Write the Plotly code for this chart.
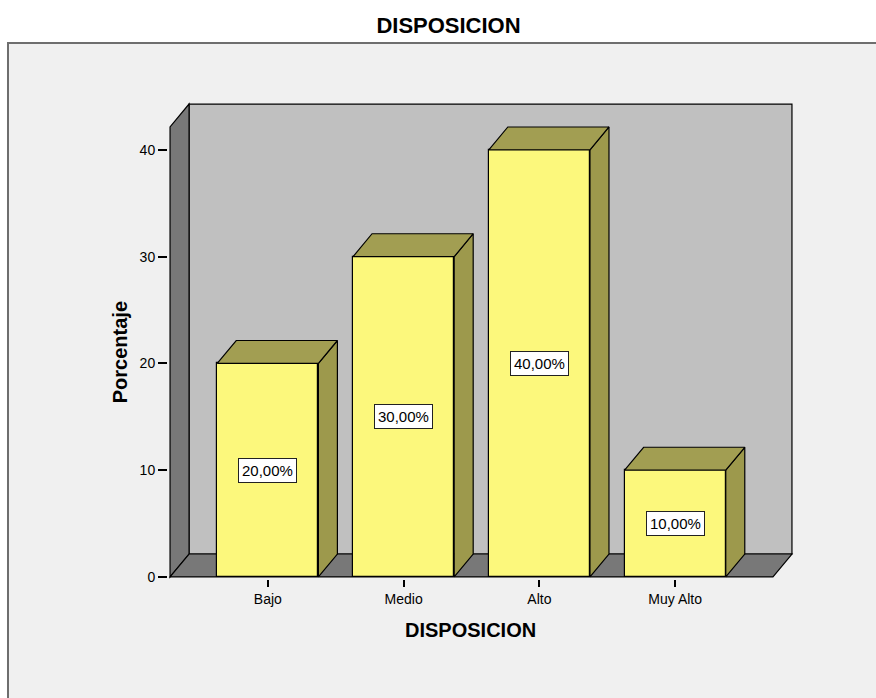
import plotly.graph_objects as go

# Survey results: share of respondents per level of "disposición"
categories = ["Bajo", "Medio", "Alto", "Muy Alto"]
percentages = [20.0, 30.0, 40.0, 10.0]
y_ticks = [0, 10, 20, 30, 40]

# 3-D box geometry, in axis units
BAR_W = 0.745          # front face width (category units)
DX, DY = 0.14, 2.15    # depth offset of the extruded faces
XLO, XHI = -0.72, 3.72 # front edges of the floor
YTOP = 42.15           # front top edge of the side wall
PADX, PADY = 0.015, 0.19

FONT = "Liberation Sans, Arial, sans-serif"
YELLOW = "#fcf87c"
OLIVE_TOP = "#a29e52"
OLIVE_SIDE = "#9d994c"
WALL = "#c0c0c0"
DARK = "#787878"


def poly_path(pts):
    return "M " + " L ".join(f"{x},{y}" for x, y in pts) + " Z"


fig = go.Figure()

# Front faces of the bars
fig.add_trace(go.Bar(
    x=list(range(len(categories))), y=percentages, width=BAR_W,
    marker=dict(color=YELLOW, line=dict(color="black", width=1.2)),
    hoverinfo="skip", showlegend=False,
))

# Top and right faces give each bar its depth
h = BAR_W / 2
for i, v in enumerate(percentages):
    top = [(i - h, v), (i - h + DX, v + DY), (i + h + DX, v + DY), (i + h, v), (i - h, v)]
    side = [(i + h, 0), (i + h, v), (i + h + DX, v + DY), (i + h + DX, DY), (i + h, 0)]
    for pts, col in ((side, OLIVE_SIDE), (top, OLIVE_TOP)):
        fig.add_trace(go.Scatter(
            x=[p[0] for p in pts], y=[p[1] for p in pts], mode="lines",
            fill="toself", fillcolor=col, line=dict(color="black", width=1.2),
            hoverinfo="skip", showlegend=False,
        ))

shapes = [
    # outer chart frame
    dict(type="rect", xref="paper", yref="paper", x0=-0.2556, x1=1.3, y0=-0.6, y1=1.1237,
         fillcolor="#f0f0f0", line=dict(color="#6e6e6e", width=2), layer="below"),
    # back wall
    dict(type="path", xref="x", yref="y", layer="below",
         path=poly_path([(XLO + DX, DY), (XLO + DX, YTOP + DY), (XHI + DX, YTOP + DY), (XHI + DX, DY)]),
         fillcolor=WALL, line=dict(color="black", width=1.2)),
    # left wall
    dict(type="path", xref="x", yref="y", layer="below",
         path=poly_path([(XLO, 0), (XLO, YTOP), (XLO + DX, YTOP + DY), (XLO + DX, DY)]),
         fillcolor=DARK, line=dict(color="black", width=1.2)),
    # floor
    dict(type="path", xref="x", yref="y", layer="below",
         path=poly_path([(XLO, 0), (XLO + DX, DY), (XHI + DX, DY), (XHI, 0)]),
         fillcolor=DARK, line=dict(color="black", width=1.2)),
]

annotations = [
    dict(x=i, y=v / 2, xref="x", yref="y", text=f"{v:.2f}%".replace(".", ","),
         showarrow=False, bgcolor="white", bordercolor="#222", borderwidth=1, borderpad=3,
         font=dict(family=FONT, size=15, color="black"))
    for i, v in enumerate(percentages)
]
annotations += [
    dict(x=0.484, y=-0.107, xref="paper", yref="paper", text="<b>DISPOSICION</b>",
         showarrow=False, yanchor="middle", font=dict(family=FONT, size=20, color="black")),
    dict(x=-0.097, y=0.476, xref="paper", yref="paper", text="<b>Porcentaje</b>",
         textangle=-90, showarrow=False, font=dict(family=FONT, size=20, color="black")),
]

fig.update_layout(
    width=876, height=698,
    margin=dict(l=168, r=82, t=102, b=119),
    paper_bgcolor="white", plot_bgcolor="rgba(0,0,0,0)",
    title=dict(text="<b>DISPOSICION</b>", x=0.512, xref="container", xanchor="center",
               y=1 - 25 / 698, yref="container", yanchor="middle",
               font=dict(family=FONT, size=22, color="black")),
    shapes=shapes, annotations=annotations, bargap=0,
    xaxis=dict(range=[XLO - PADX, XHI + DX + PADX], tickvals=list(range(len(categories))),
               ticktext=categories, ticks="outside", ticklen=7, tickcolor="black",
               tickwidth=1.5, showline=False, showgrid=False, zeroline=False,
               tickfont=dict(family=FONT, size=14, color="black")),
    yaxis=dict(range=[-PADY, YTOP + DY + PADY], tickvals=y_ticks, ticks="outside",
               ticklen=9, tickcolor="black", tickwidth=1.5, showline=False,
               showgrid=False, zeroline=False,
               tickfont=dict(family=FONT, size=14, color="black")),
)

fig.write_html("out.html")
